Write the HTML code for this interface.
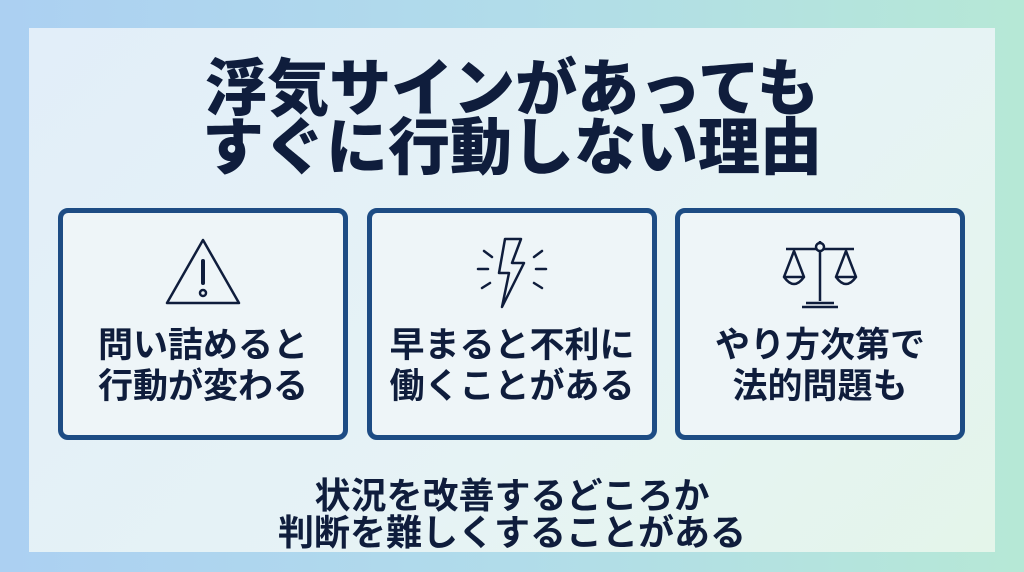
<!DOCTYPE html>
<html><head><meta charset="utf-8"><style>
body{margin:0;width:1024px;height:572px;overflow:hidden;background:linear-gradient(90deg,#acd0f2,#b1dcea 50%,#b6e8d6);font-family:"Liberation Sans","Noto Sans CJK JP",sans-serif;font-weight:bold;color:#0f1d3c}
.panel{position:absolute;left:29px;top:28px;width:966px;height:524px;background:linear-gradient(135deg,#e2eef9,#e6f3f5 60%,#e4f5ea)}
.t{position:absolute;left:0;width:1024px;text-align:center;font-weight:900;font-size:62px;line-height:58px}
.box{position:absolute;top:208px;width:280px;height:222px;border:5px solid #1d4c84;border-radius:10px;background:#eef5f8}
.box .x{position:absolute;top:112px;width:100%;text-align:center;font-size:35px;line-height:41px}
.box svg{position:absolute;left:100px;top:20px}
.b{position:absolute;left:0;width:1024px;text-align:center;font-size:36px;line-height:37px}
</style></head><body>
<div class="panel"></div>
<div class="t" style="top:61px">浮気サインがあっても</div>
<div class="t" style="top:120px">すぐに行動しない理由</div>
<div class="box" style="left:58px"><svg width="80" height="80" viewBox="0 0 80 80" fill="none" stroke="#0f1d3c" stroke-width="2.5" stroke-linejoin="round"><path d="M40 7 L4 70 H76 Z"/><path d="M40 28 V50" stroke-width="4" stroke-linecap="round"/><circle cx="40" cy="60" r="3"/></svg><div class="x">問い詰めると<br>行動が変わる</div></div>
<div class="box" style="left:367px"><svg width="80" height="80" viewBox="0 0 80 80" fill="none" stroke="#0f1d3c" stroke-width="2.5" stroke-linejoin="round" stroke-linecap="round"><path d="M33 6 H49 L40 30 H52 L30 74 L37 40 H27 Z"/><path d="M12 18 L20 24 M6 36 H16 M10 55 L18 50 M70 18 L62 24 M74 36 H64 M70 55 L62 50"/></svg><div class="x">早まると不利に<br>働くことがある</div></div>
<div class="box" style="left:675px"><svg width="80" height="80" viewBox="0 0 80 80" fill="none" stroke="#0f1d3c" stroke-width="2.5" stroke-linejoin="round"><path d="M40 8 V68 M6 16 H74 M26 70 H54 M22 74 H58"/><circle cx="40" cy="14" r="4" fill="#eef5f8"/><path d="M14 18 L4 44 H24 Z M66 18 L56 44 H76 Z M4 44 Q14 58 24 44 M56 44 Q66 58 76 44"/></svg><div class="x">やり方次第で<br>法的問題も</div></div>
<div class="b" style="top:477px">状況を改善するどころか</div>
<div class="b" style="top:514px">判断を難しくすることがある</div>
</body></html>
